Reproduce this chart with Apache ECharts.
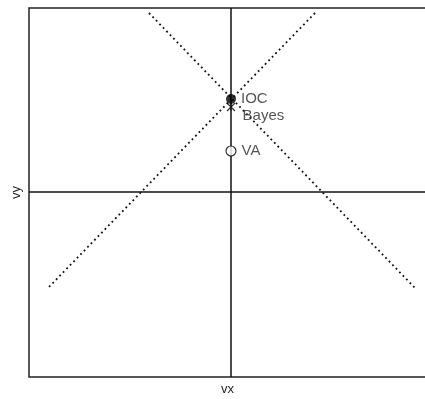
<!DOCTYPE html>
<html>
<head>
<meta charset="utf-8">
<script src="https://cdn.jsdelivr.net/npm/echarts@6/dist/echarts.min.js"></script>
<style>
  html, body { margin: 0; padding: 0; background: #fff; }
  #chart { width: 425px; height: 399px; }
</style>
</head>
<body>
<div id="chart"></div>
<script>
// Axis extents in velocity units
const xRange = [-2.02, 1.95];
const yRange = [-1.85, 1.84];

// Estimator locations on the vy axis
const pointNames = ['IOC', 'Bayes', 'VA'];
const pointX = [0, 0, 0];
const pointY = [0.93, 0.85, 0.41];

// Two constraint lines crossing at the IOC solution
const lineA = [[-0.82, 1.79], [1.84, -0.96]];
const lineB = [[0.84, 1.79], [-1.83, -0.96]];

const textColor = '#2a2a2a';
const inkColor = '#111';

const crossPath = 'path://M0,0L10,10M10,0L0,10M5,0L5,10';

const chart = echarts.init(document.getElementById('chart'), null, { renderer: 'canvas' });

const dottedStyle = { color: inkColor, width: 1.8, type: [1.8, 3.2] };

chart.setOption({
  animation: false,
  backgroundColor: '#fff',
  grid: {
    left: 29, top: 8, right: -1, bottom: 22,
    outerBoundsMode: 'none', containLabel: false,
    show: true, borderColor: '#222', borderWidth: 1.5, backgroundColor: 'transparent'
  },
  xAxis: {
    type: 'value', min: xRange[0], max: xRange[1],
    name: 'vx', nameLocation: 'middle', nameGap: 6,
    nameTextStyle: { color: textColor, fontFamily: 'Liberation Sans', fontSize: 13, verticalAlign: 'top' },
    axisLine: { show: false }, axisTick: { show: false }, axisLabel: { show: false },
    splitLine: { show: false }
  },
  yAxis: {
    type: 'value', min: yRange[0], max: yRange[1],
    name: 'vy', nameLocation: 'middle', nameGap: 6,
    nameTextStyle: { color: textColor, fontFamily: 'Liberation Sans', fontSize: 13 },
    axisLine: { show: false }, axisTick: { show: false }, axisLabel: { show: false },
    splitLine: { show: false }
  },
  series: [
    {
      type: 'line', data: lineA, symbol: 'none', lineStyle: dottedStyle, z: 2,
      markLine: {
        silent: true, symbol: 'none', label: { show: false },
        lineStyle: { color: inkColor, width: 1.5, type: 'solid' },
        data: [{ xAxis: 0 }, { yAxis: 0 }]
      }
    },
    { type: 'line', data: lineB, symbol: 'none', lineStyle: dottedStyle, z: 2 },
    {
      type: 'scatter', z: 5,
      data: [{
        name: pointNames[0], value: [pointX[0], pointY[0]],
        symbol: 'circle', symbolSize: 10,
        itemStyle: { color: '#000' }
      }],
      label: {
        show: true, position: 'right', distance: 5, formatter: '{b}',
        color: textColor, fontFamily: 'Liberation Sans', fontSize: 15
      }
    },
    {
      type: 'scatter', z: 4,
      data: [{
        name: pointNames[1], value: [pointX[1], pointY[1]],
        symbol: crossPath, symbolSize: 8,
        itemStyle: { color: 'transparent', borderColor: '#000', borderWidth: 1.2 }
      }],
      label: {
        show: true, position: 'right', distance: 7, offset: [0, 9], formatter: '{b}',
        color: textColor, fontFamily: 'Liberation Sans', fontSize: 15
      }
    },
    {
      type: 'scatter', z: 5,
      data: [{
        name: pointNames[2], value: [pointX[2], pointY[2]],
        symbol: 'circle', symbolSize: 10,
        itemStyle: { color: '#fff', borderColor: '#000', borderWidth: 1.2 }
      }],
      label: {
        show: true, position: 'right', distance: 5, formatter: '{b}',
        color: textColor, fontFamily: 'Liberation Sans', fontSize: 15
      }
    }
  ]
});
</script>
</body>
</html>
